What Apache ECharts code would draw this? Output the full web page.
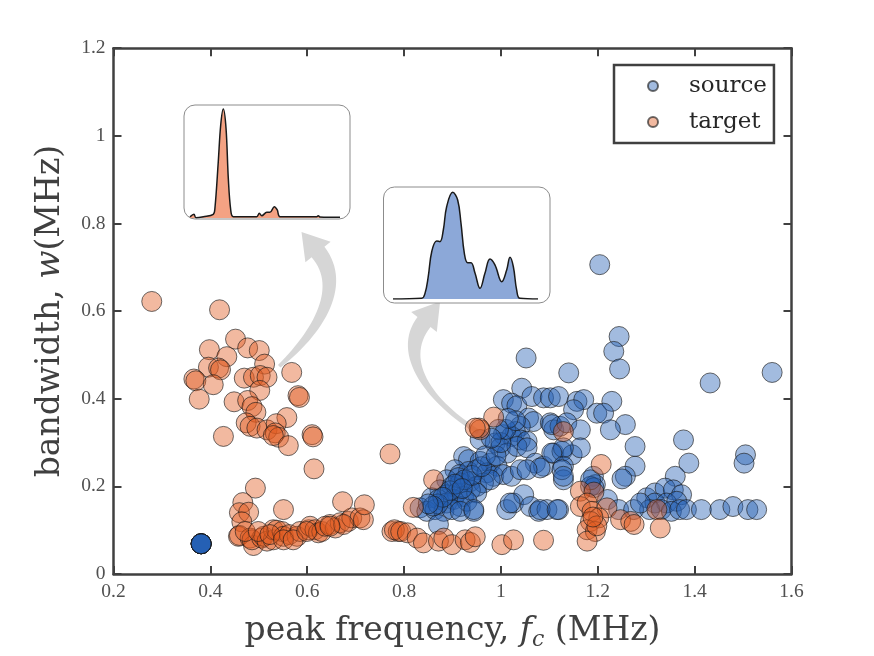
<!DOCTYPE html>
<html>
<head>
<meta charset="utf-8">
<script src="https://cdn.jsdelivr.net/npm/echarts@6/dist/echarts.min.js"></script>
<style>html,body{margin:0;padding:0;background:#fff}#c{width:874px;height:656px}</style>
</head>
<body>
<div id="c"></div>
<script>
// ---- data ----
var seriesNames = ['source', 'target'];
var xTicks = [0.2, 0.4, 0.6, 0.8, 1.0, 1.2, 1.4, 1.6];
var yTicks = [0, 0.2, 0.4, 0.6, 0.8, 1.0, 1.2];

var sourcePoints = [
  [0.381,0.069],[0.381,0.069],[0.381,0.069],[0.381,0.069],[0.381,0.069],[0.381,0.069],[0.381,0.069],[0.381,0.069],
  [1.052,0.493],[1.140,0.459],[1.043,0.424],
  [1.005,0.398],[1.022,0.390],[1.033,0.384],
  [1.064,0.405],[1.088,0.402],[1.102,0.402],[1.119,0.405],
  [1.157,0.394],[1.171,0.398],[1.150,0.375],[1.198,0.367],
  [1.229,0.394],[1.212,0.367],[1.257,0.341],[1.226,0.329],
  [1.244,0.542],[1.233,0.508],[1.245,0.468],[1.204,0.706],
  [1.432,0.436],[1.560,0.460],
  [1.057,0.356],[1.067,0.348],[1.040,0.337],[1.030,0.325],
  [1.102,0.345],[1.109,0.329],[1.122,0.337],[1.105,0.341],[1.136,0.345],[1.164,0.329],
  [1.005,0.318],[1.022,0.314],[1.040,0.306],[1.054,0.303],
  [0.957,0.307],[0.988,0.299],[0.999,0.288],[1.013,0.276],
  [1.033,0.291],[1.054,0.288],[1.071,0.253],[1.088,0.246],
  [1.109,0.276],[1.126,0.280],[1.147,0.272],[1.164,0.288],[1.129,0.288],[1.105,0.276],
  [1.081,0.242],[1.129,0.246],[1.129,0.215],[1.126,0.238],[1.129,0.223],
  [1.277,0.291],[1.377,0.306],[1.277,0.246],[1.257,0.223],[1.250,0.217],
  [1.388,0.253],[1.360,0.223],[1.505,0.272],[1.502,0.253],
  [1.191,0.223],[1.195,0.204],[1.185,0.200],[1.192,0.197],[1.185,0.215],[1.220,0.170],
  [0.923,0.268],[0.933,0.261],[0.957,0.257],[0.978,0.253],[0.992,0.246],
  [0.905,0.238],[0.915,0.227],[0.933,0.234],
  [0.950,0.238],[0.971,0.231],[0.985,0.223],[1.005,0.227],[1.022,0.223],[1.040,0.238],[1.054,0.238],
  [0.888,0.215],[0.899,0.200],[0.916,0.208],[0.937,0.211],[0.950,0.200],[0.964,0.208],[0.978,0.215],
  [0.874,0.192],[0.888,0.181],[0.909,0.185],[0.923,0.177],[0.937,0.192],[0.950,0.185],
  [0.857,0.174],[0.871,0.170],[0.888,0.162],[0.902,0.170],[0.916,0.154],[0.930,0.166],[0.944,0.143],
  [0.833,0.151],[0.847,0.143],[0.864,0.147],[0.882,0.143],[0.899,0.147],[0.916,0.143],[0.944,0.147],
  [0.871,0.113],
  [1.012,0.147],[1.026,0.162],[1.047,0.181],[1.061,0.154],[1.078,0.143],[1.095,0.147],[1.119,0.147],[1.019,0.162],[1.081,0.147],
  [1.301,0.174],[1.318,0.185],[1.339,0.196],[1.356,0.192],[1.373,0.181],[1.318,0.162],[1.342,0.162],[1.363,0.166],
  [1.307,0.147],[1.331,0.147],[1.352,0.143],[1.369,0.147],[1.383,0.147],
  [1.414,0.147],[1.452,0.147],[1.479,0.154],[1.510,0.147],[1.528,0.147],
  [1.116,0.147],[1.243,0.147],[1.274,0.147],[1.288,0.162],
  [0.912,0.220],[0.925,0.215],[0.940,0.225],[0.960,0.245],[0.968,0.270],[0.990,0.270],[1.000,0.300],
  [1.010,0.330],[1.030,0.350],[1.015,0.355],[0.995,0.330],[0.980,0.310],[0.895,0.190],[0.905,0.205],
  [0.920,0.195],[0.870,0.160],[0.880,0.175],[0.860,0.155],[0.850,0.160]
];

var targetPoints = [
  [0.279,0.622],[0.419,0.603],[0.452,0.536],[0.398,0.512],[0.477,0.516],[0.501,0.510],
  [0.434,0.496],[0.512,0.479],[0.396,0.472],[0.417,0.470],[0.421,0.466],[0.366,0.445],[0.370,0.441],
  [0.406,0.432],[0.470,0.447],[0.489,0.449],[0.503,0.453],[0.517,0.449],[0.568,0.460],[0.502,0.419],
  [0.377,0.399],[0.581,0.407],[0.584,0.403],[0.449,0.393],[0.477,0.396],[0.486,0.382],[0.494,0.369],
  [0.558,0.357],[0.474,0.345],[0.482,0.337],[0.496,0.333],[0.517,0.329],[0.536,0.343],[0.534,0.322],
  [0.541,0.312],[0.530,0.316],[0.561,0.293],[0.427,0.314],[0.610,0.318],[0.612,0.313],[0.614,0.240],
  [0.493,0.196],[0.467,0.163],[0.551,0.147],[0.460,0.140],[0.479,0.141],[0.465,0.119],
  [0.458,0.086],[0.460,0.088],[0.482,0.082],[0.489,0.065],[0.486,0.078],[0.506,0.082],[0.510,0.086],
  [0.517,0.075],[0.530,0.078],[0.530,0.101],[0.537,0.100],[0.548,0.097],[0.551,0.086],[0.563,0.090],
  [0.579,0.086],[0.585,0.097],[0.603,0.101],[0.606,0.109],[0.616,0.101],[0.623,0.094],[0.630,0.097],
  [0.647,0.113],[0.658,0.105],[0.668,0.117],[0.685,0.120],[0.692,0.128],[0.709,0.128],[0.716,0.124],
  [0.472,0.097],[0.499,0.097],[0.523,0.090],[0.551,0.078],[0.571,0.078],[0.599,0.097],[0.637,0.109],
  [0.675,0.113],[0.647,0.109],[0.673,0.165],[0.718,0.158],[0.771,0.274],
  [0.775,0.097],[0.788,0.097],[0.780,0.101],[0.793,0.097],[0.807,0.094],[0.827,0.082],[0.840,0.071],
  [0.871,0.075],[0.882,0.082],[0.899,0.067],[0.926,0.078],[0.937,0.072],[0.947,0.085],[1.002,0.067],
  [1.026,0.078],[1.088,0.077],
  [0.985,0.358],[0.957,0.329],[0.955,0.333],[0.947,0.333],[0.861,0.215],[0.819,0.152],
  [1.129,0.325],[1.207,0.250],
  [1.164,0.189],[1.192,0.187],[1.164,0.154],[1.178,0.162],[1.188,0.143],[1.219,0.151],[1.202,0.128],
  [1.185,0.120],[1.178,0.101],[1.195,0.097],[1.178,0.075],[1.247,0.124],[1.268,0.120],[1.275,0.113],
  [1.322,0.147],[1.329,0.105],[1.198,0.110],[1.190,0.130]
];

// inset spectra (arbitrary units 0..100 horizontally, 0..1 vertically)
var insetTargetX = [0, 2.6, 3.9, 8.8, 15.3, 16.4, 18.6, 20.2, 21.9, 23.7, 25.2, 26.8, 28.5, 43.9, 45.6, 47.2, 50.5, 52.6, 55.5, 57.4, 59.2, 83.4, 84.4, 85.5, 98.7];
var insetTargetY = [0.01, 0.033, 0.003, 0.012, 0.033, 0.086, 0.498, 0.823, 0.965, 0.794, 0.351, 0.071, 0.012, 0.012, 0.042, 0.020, 0.050, 0.050, 0.100, 0.071, 0.012, 0.012, 0.020, 0.009, 0.006];
var insetSourceX = [0, 19.8, 22.1, 24.3, 26.7, 30.1, 32.4, 34.7, 37.0, 41.2, 44.6, 46.9, 49.2, 51.5, 53.8, 56.6, 60.0, 63.4, 66.9, 70.3, 75.0, 78.4, 80.7, 83.0, 85.3, 87.6, 100];
var insetSourceY = [0, 0.006, 0.051, 0.199, 0.422, 0.518, 0.512, 0.616, 0.824, 0.953, 0.884, 0.676, 0.408, 0.324, 0.324, 0.229, 0.095, 0.229, 0.357, 0.304, 0.154, 0.259, 0.372, 0.288, 0.080, 0.006, 0];

function zip(a, b) { return a.map(function (v, i) { return [v, b[i]]; }); }

// decorative curved arrow outline: bezier edges sampled into a polygon
function bez(p0, p1, p2, p3, n) {
  var pts = [];
  for (var i = 0; i <= n; i++) {
    var t = i / n, u = 1 - t;
    pts.push([
      u*u*u*p0[0] + 3*u*u*t*p1[0] + 3*u*t*t*p2[0] + t*t*t*p3[0],
      u*u*u*p0[1] + 3*u*u*t*p1[1] + 3*u*t*t*p2[1] + t*t*t*p3[1]
    ]);
  }
  return pts;
}
function arrowShape(sideA, head, sideB) {
  var a = bez(sideA[0], sideA[1], sideA[2], sideA[3], 30);
  var b = bez(sideB[0], sideB[1], sideB[2], sideB[3], 30);
  return a.concat(head).concat(b);
}
var leftArrow = arrowShape(
  [[278,364.9],[315,328],[337,286.2],[311.6,257.2]],
  [[305.4,262.3],[301.5,231.9],[330.6,241.7]],
  [[324.4,246.8],[353,283.8],[326,332],[280.5,367.5]]
);
var rightArrow = arrowShape(
  [[477,434],[420.5,398.5],[391.5,351.3],[417.5,317]],
  [[411.2,312],[440.1,301.6],[436.8,332],[430.5,327]],
  [[430.5,327],[405,359],[430,398.5],[479.5,430]]
);

var axisColor = '#404040';
var serif = 'DejaVu Serif';
var numFont = 'Liberation Serif';

var chart = echarts.init(document.getElementById('c'), null, {renderer: 'canvas'});

function mainX(pos, showLabel, withName) {
  var o = {
    type: 'value', gridIndex: 0, position: pos,
    min: xTicks[0], max: xTicks[xTicks.length - 1], interval: 0.2,
    axisLine: {show: true, onZero: false, lineStyle: {color: axisColor, width: 2.5}},
    axisTick: {show: true, inside: true, length: 8, lineStyle: {color: axisColor, width: 2}},
    axisLabel: {show: showLabel, fontFamily: numFont, fontSize: 19.5, color: '#505050', margin: 8},
    splitLine: {show: false}
  };
  if (withName) {
    o.name = '{n|peak frequency, }{i|f}{s|c}{n| (MHz)}';
    o.nameLocation = 'middle';
    o.nameGap = 37;
    o.nameTextStyle = {
      color: axisColor, fontFamily: serif, fontSize: 33,
      rich: {
        n: {fontFamily: serif, fontSize: 33, color: axisColor},
        i: {fontFamily: serif, fontSize: 33, fontStyle: 'italic', color: axisColor},
        s: {fontFamily: serif, fontSize: 22, fontStyle: 'italic', color: axisColor, padding: [18, 0, 0, 0]}
      }
    };
  }
  return o;
}
function mainY(pos, showLabel, withName) {
  var o = {
    type: 'value', gridIndex: 0, position: pos,
    min: yTicks[0], max: yTicks[yTicks.length - 1], interval: 0.2,
    axisLine: {show: true, onZero: false, lineStyle: {color: axisColor, width: 2.5}},
    axisTick: {show: true, inside: true, length: 8, lineStyle: {color: axisColor, width: 2}},
    axisLabel: {show: showLabel, fontFamily: numFont, fontSize: 19.5, color: '#505050', margin: 8},
    splitLine: {show: false}
  };
  if (withName) {
    o.name = '{n|bandwidth, }{i|w}{n|(MHz)}';
    o.nameLocation = 'middle';
    o.nameGap = 47;
    o.nameTextStyle = {
      color: axisColor, fontFamily: serif, fontSize: 33,
      rich: {
        n: {fontFamily: serif, fontSize: 33, color: axisColor},
        i: {fontFamily: serif, fontSize: 33, fontStyle: 'italic', color: axisColor}
      }
    };
  }
  return o;
}

var option = {
  animation: false,
  backgroundColor: '#fff',
  grid: [
    {left: 113.5, right: 82.5, top: 48.2, bottom: 81.6},
    {left: 190, top: 105, width: 152, height: 113},
    {left: 393, top: 187, width: 145, height: 112}
  ],
  xAxis: [
    mainX('bottom', true, true),
    mainX('top', false, false),
    {type: 'value', gridIndex: 1, min: 0, max: 100, show: false},
    {type: 'value', gridIndex: 2, min: 0, max: 100, show: false}
  ],
  yAxis: [
    mainY('left', true, true),
    mainY('right', false, false),
    {type: 'value', gridIndex: 1, min: 0, max: 1, show: false},
    {type: 'value', gridIndex: 2, min: 0, max: 1, show: false}
  ],
  legend: {
    data: seriesNames,
    orient: 'vertical',
    left: 614, top: 65,
    padding: [8, 7, 8, 33],
    itemWidth: 10, itemHeight: 10, itemGap: 10,
    backgroundColor: '#fff',
    borderColor: axisColor, borderWidth: 2.5, borderRadius: 0,
    textStyle: {fontFamily: serif, fontSize: 23, color: '#262626', lineHeight: 26, padding: [0, 0, 0, 26]}
  },
  graphic: [
    {type: 'polygon', z: 1, shape: {points: leftArrow}, style: {fill: '#d6d6d6'}},
    {type: 'polygon', z: 1, shape: {points: rightArrow}, style: {fill: '#d6d6d6'}},
    {type: 'rect', z: 8, shape: {x: 184, y: 105, width: 166, height: 114, r: 11}, style: {fill: '#fff', stroke: '#8c8c8c', lineWidth: 1}},
    {type: 'rect', z: 8, shape: {x: 383.5, y: 187, width: 166.5, height: 116, r: 11}, style: {fill: '#fff', stroke: '#8c8c8c', lineWidth: 1}}
  ],
  series: [
    {
      name: 'source', type: 'scatter', xAxisIndex: 0, yAxisIndex: 0,
      symbol: 'circle', symbolSize: 20, z: 3,
      itemStyle: {color: 'rgba(35,95,180,0.53)', borderColor: 'rgba(25,25,25,0.8)', borderWidth: 1},
      data: sourcePoints
    },
    {
      name: 'target', type: 'scatter', xAxisIndex: 0, yAxisIndex: 0,
      symbol: 'circle', symbolSize: 20, z: 4,
      itemStyle: {color: 'rgba(225,90,30,0.53)', borderColor: 'rgba(25,25,25,0.8)', borderWidth: 1},
      data: targetPoints
    },
    {
      name: 'targetSpectrum', type: 'line', xAxisIndex: 2, yAxisIndex: 2, z: 10,
      smooth: 0.35, symbol: 'none',
      lineStyle: {color: '#1a1a1a', width: 1.5},
      areaStyle: {color: '#f4a283', opacity: 1},
      data: zip(insetTargetX, insetTargetY)
    },
    {
      name: 'sourceSpectrum', type: 'line', xAxisIndex: 3, yAxisIndex: 3, z: 10,
      smooth: 0.4, symbol: 'none',
      lineStyle: {color: '#1a1a1a', width: 1.5},
      areaStyle: {color: '#8ca8d8', opacity: 1},
      data: zip(insetSourceX, insetSourceY)
    }
  ]
};
chart.setOption(option);
</script>
</body>
</html>
